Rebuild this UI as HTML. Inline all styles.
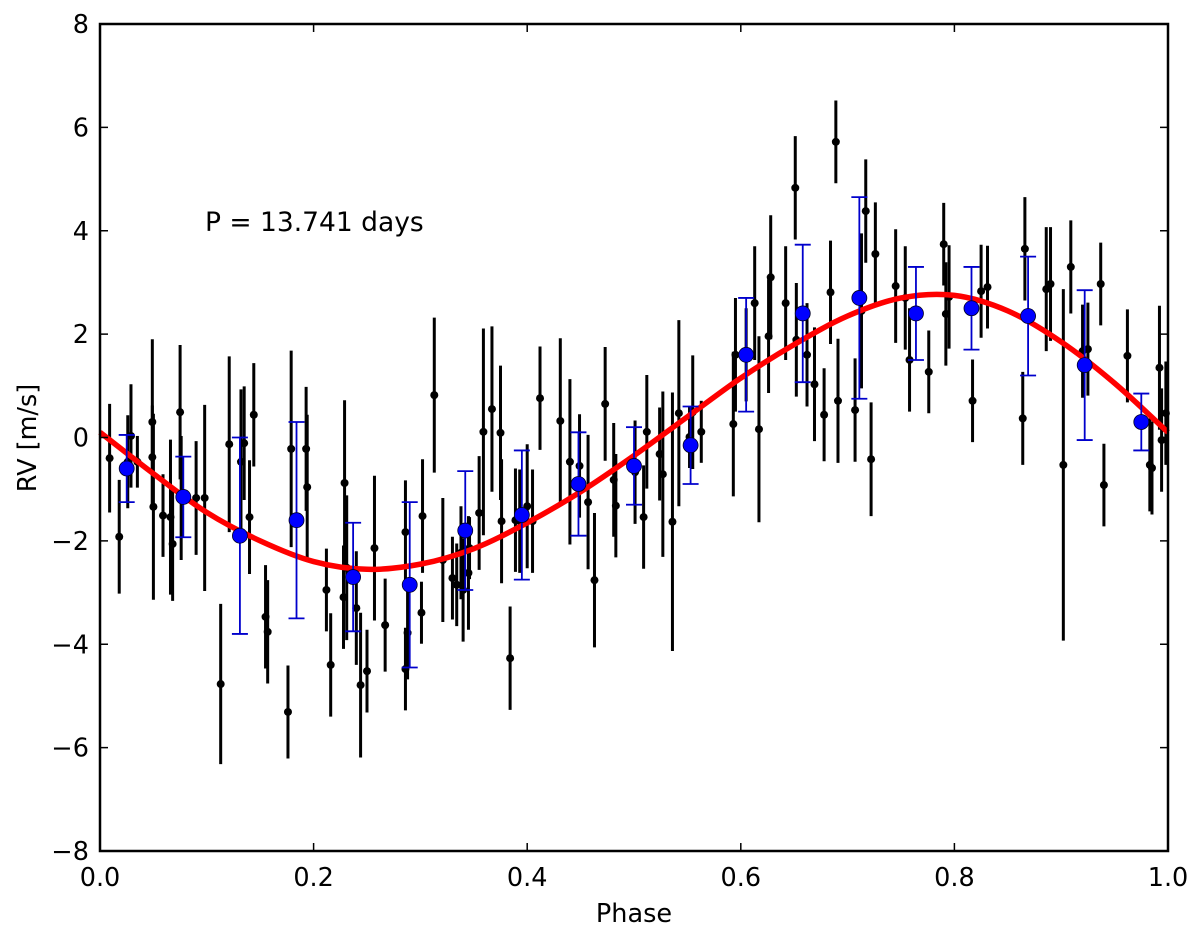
<!DOCTYPE html>
<html><head><meta charset="utf-8"><style>
html,body{margin:0;padding:0;background:#fff;}
svg{display:block;font-family:"DejaVu Sans","Liberation Sans",sans-serif;}
</style></head><body>
<svg id="chart" width="1200" height="928" viewBox="0 0 1200 928">
<g id="marks"></g>
<g id="axes"></g>
</svg>
<script>
const phases=[.009,.018,.026,.029,.035,.049,.049,.050,.059,.066,.068,.075,.076,.090,.098,.113,.121,.132,.135,.140,.144,.155,.157,.176,.179,.193,.194,.212,.216,.229,.231,.228,.240,.244,.250,.257,.267,.286,.286,.288,.301,.302,.313,.321,.330,.334,.338,.340,.345,.346,.355,.359,.367,.375,.376,.384,.389,.393,.400,.405,.412,.431,.440,.449,.457,.463,.473,.481,.483,.501,.509,.512,.524,.527,.536,.542,.552,.555,.563,.593,.595,.605,.613,.617,.626,.628,.642,.651,.652,.662,.669,.678,.684,.689,.691,.707,.717,.713,.722,.726,.745,.754,.758,.776,.790,.792,.795,.817,.825,.831,.864,.866,.886,.890,.902,.909,.920,.925,.937,.940,.962,.983,.985,.992,.994,.998];
const rvValues=[-0.40,-1.92,-0.47,0.03,-0.47,0.30,-0.38,-1.34,-1.51,-1.54,-2.06,0.49,-1.17,-1.17,-1.17,-4.77,-0.13,-0.47,-0.11,-1.54,0.44,-3.47,-3.76,-5.31,-0.22,-0.22,-0.96,-2.95,-4.40,-0.88,-2.52,-3.09,-3.30,-4.79,-4.52,-2.14,-3.63,-4.48,-1.83,-3.78,-3.39,-1.52,0.82,-2.37,-2.72,-2.85,-2.23,-2.95,-2.62,-2.14,-1.46,0.11,0.55,0.09,-1.62,-4.27,-1.60,-1.62,-1.33,-1.62,0.76,0.32,-0.47,-0.55,-1.25,-2.76,0.65,-0.82,-1.32,-0.67,-1.54,0.11,-0.32,-0.71,-1.63,0.47,0.01,0.49,0.11,0.26,1.60,1.60,2.60,0.16,1.96,3.10,2.60,4.83,1.89,1.60,1.03,0.44,2.81,5.72,0.71,0.53,4.38,2.45,-0.42,3.55,2.93,2.70,1.50,1.27,3.74,2.39,2.72,0.71,2.83,2.91,0.37,3.65,2.87,2.97,-0.53,3.30,1.67,1.71,2.97,-0.92,1.58,-0.53,-0.59,1.35,-0.05,0.47];
const rvErrors=[1.05,1.1,0.9,1.0,0.5,1.6,1.0,1.8,0.8,1.5,1.1,1.3,1.2,1.1,1.8,1.55,1.7,1.4,1.1,1.1,1.0,1.0,1.0,0.9,1.9,1.2,1.4,0.8,1.0,1.6,1.4,1.0,1.1,1.4,0.8,1.4,0.9,0.8,1.0,0.9,0.6,1.1,1.5,1.2,0.8,0.8,0.9,1.0,1.1,0.6,1.1,2.0,1.6,1.3,1.2,1.0,1.0,1.0,1.2,1.0,1.0,1.6,1.6,1.0,1.3,1.3,1.1,1.1,1.0,1.0,1.0,1.1,0.9,1.6,2.5,1.8,0.6,1.1,0.6,1.4,1.1,0.9,1.1,1.8,1.1,1.2,1.1,1.0,1.1,1.0,1.1,0.9,1.0,0.8,1.2,1.0,1.0,1.5,1.1,1.0,1.1,1.0,1.0,0.8,0.8,1.0,1.0,0.8,0.9,0.8,0.9,1.0,1.2,1.1,3.4,0.9,0.9,0.9,0.8,0.8,0.9,0.9,0.9,1.2,1.0,1.0];
const binPhases=[.025,.078,.131,.184,.237,.290,.342,.395,.448,.500,.553,.605,.658,.711,.764,.816,.869,.922,.975];
const binValues=[-0.6,-1.15,-1.9,-1.6,-2.7,-2.85,-1.8,-1.5,-0.9,-0.55,-0.15,1.6,2.4,2.7,2.4,2.5,2.35,1.4,0.3];
const binErrors=[0.65,0.78,1.9,1.9,1.05,1.6,1.15,1.25,1.0,0.75,0.75,1.1,1.33,1.95,0.9,0.8,1.15,1.45,0.55];
const modelPhases=[0,.05,.1,.15,.2,.25,.3,.35,.4,.45,.5,.55,.6,.65,.7,.75,.8,.85,.9,.95,1];
const modelValues=[0.1,-0.7,-1.45,-2.0,-2.4,-2.55,-2.45,-2.15,-1.65,-1.05,-0.35,0.4,1.15,1.8,2.35,2.7,2.75,2.45,1.85,1.05,0.1];
const xTicks=[0,0.2,0.4,0.6,0.8,1.0];
const xTickLabels=["0.0","0.2","0.4","0.6","0.8","1.0"];
const yTicks=[-8,-6,-4,-2,0,2,4,6,8];
const yTickLabels=["\u22128","\u22126","\u22124","\u22122","0","2","4","6","8"];

const L=100,R=1168,T=24,B=851;
const X=v=>L+(v-0)/(1-0)*(R-L);
const Y=v=>B-(v+8)/16*(B-T);
const NS="http://www.w3.org/2000/svg";
function mk(tag,parent,attrs){const e=document.createElementNS(NS,tag);for(const k in attrs)e.setAttribute(k,attrs[k]);parent.appendChild(e);return e;}
const marks=document.getElementById('marks'),axes=document.getElementById('axes');

for(let i=0;i<phases.length;i++){
  const x=X(phases[i]);
  const ln=mk('line',marks,{x1:x,x2:x,y1:Y(rvValues[i]+rvErrors[i]),y2:Y(rvValues[i]-rvErrors[i]),stroke:'#000','stroke-width':3});
  
  
  const c=mk('circle',marks,{cx:x,cy:Y(rvValues[i]),r:4,fill:'#000'});
  
  
}
const pts=modelPhases.map((p,i)=>[X(p),Y(modelValues[i])]);
let d='M'+pts[0][0]+','+pts[0][1];
for(let i=0;i<pts.length-1;i++){
  const p0=pts[Math.max(0,i-1)],p1=pts[i],p2=pts[i+1],p3=pts[Math.min(pts.length-1,i+2)];
  d+=' C'+(p1[0]+(p2[0]-p0[0])/6)+','+(p1[1]+(p2[1]-p0[1])/6)+' '+(p2[0]-(p3[0]-p1[0])/6)+','+(p2[1]-(p3[1]-p1[1])/6)+' '+p2[0]+','+p2[1];
}
const curve=mk('path',marks,{d:d,fill:'none',stroke:'#f00','stroke-width':5.5});


for(let i=0;i<binPhases.length;i++){
  const x=X(binPhases[i]),yt=Y(binValues[i]+binErrors[i]),yb=Y(binValues[i]-binErrors[i]);
  const g=mk('g',marks,{});
  
  
  mk('line',g,{x1:x,x2:x,y1:yt,y2:yb,stroke:'#00c','stroke-width':1.8});
  mk('line',g,{x1:x-8,x2:x+8,y1:yt,y2:yt,stroke:'#00c','stroke-width':1.8});
  mk('line',g,{x1:x-8,x2:x+8,y1:yb,y2:yb,stroke:'#00c','stroke-width':1.8});
  mk('circle',g,{cx:x,cy:Y(binValues[i]),r:7.5,fill:'#00f',stroke:'#002','stroke-width':0.8});
}
const fr=mk('rect',axes,{x:L,y:T,width:R-L,height:B-T,fill:'none',stroke:'#000','stroke-width':2.5});


xTicks.forEach((v,i)=>{
  const x=X(v);
  mk('line',axes,{x1:x,x2:x,y1:B,y2:B-8,stroke:'#000','stroke-width':1.5});
  mk('line',axes,{x1:x,x2:x,y1:T,y2:T+8,stroke:'#000','stroke-width':1.5});
  const t=mk('text',axes,{x:x,y:886,'text-anchor':'middle','font-size':25.5,fill:'#000'});
  t.textContent=xTickLabels[i];
  
  
});
yTicks.forEach((v,i)=>{
  const y=Y(v);
  mk('line',axes,{x1:L,x2:L+8,y1:y,y2:y,stroke:'#000','stroke-width':1.5});
  mk('line',axes,{x1:R,x2:R-8,y1:y,y2:y,stroke:'#000','stroke-width':1.5});
  const t=mk('text',axes,{x:89,y:y+9,'text-anchor':'end','font-size':25.5,fill:'#000'});
  t.textContent=yTickLabels[i];
  
  
});
</script>
<svg style="position:absolute;left:0;top:0" width="1200" height="928">
<text x="634" y="922" text-anchor="middle" font-size="25.5" font-family="DejaVu Sans, sans-serif">Phase</text>
<text transform="translate(36,438) rotate(-90)" text-anchor="middle" font-size="25.5" font-family="DejaVu Sans, sans-serif">RV [m/s]</text>
<text x="205" y="231" font-size="26.5" font-family="DejaVu Sans, sans-serif">P = 13.741 days</text>
</svg>
</body></html>
